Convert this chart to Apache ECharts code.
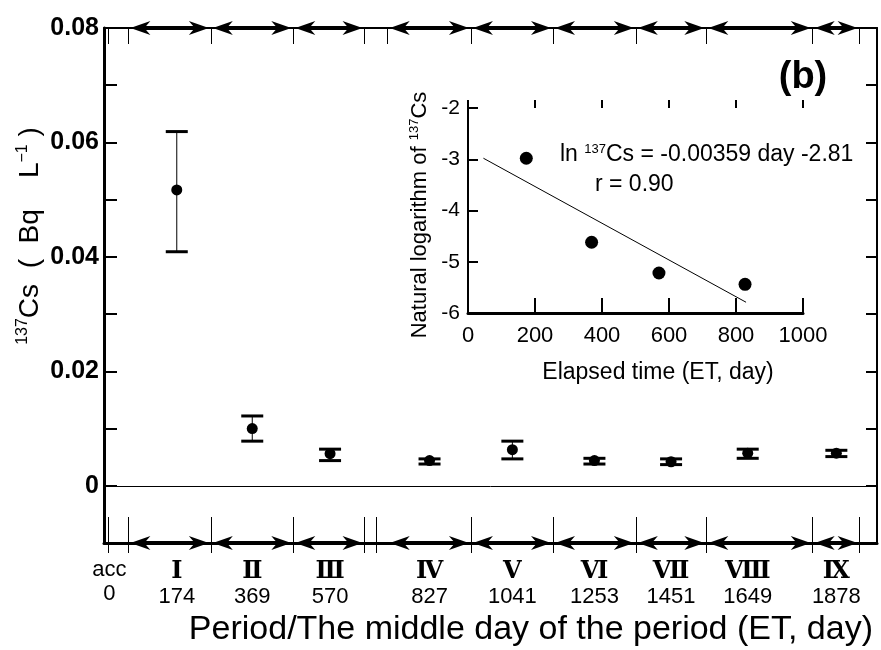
<!DOCTYPE html>
<html>
<head>
<meta charset="utf-8">
<script src="https://cdn.jsdelivr.net/npm/echarts@6/dist/echarts.min.js"></script>
<style>
  html, body { margin: 0; padding: 0; background: #fff; }
  #chart { width: 881px; height: 650px; }
</style>
</head>
<body>
<div id="chart"></div>
<script>
// main panel: 137Cs by period
const periodNames = ['Ⅰ', 'Ⅱ', 'Ⅲ', 'Ⅳ', 'Ⅴ', 'Ⅵ', 'Ⅶ', 'Ⅷ', 'Ⅸ']
const middleDays = [174, 369, 570, 827, 1041, 1253, 1451, 1649, 1878]
const cs137 = [0.0517, 0.0100, 0.0056, 0.0044, 0.0063, 0.0044, 0.0042, 0.0057, 0.0057]
const cs137Low = [0.0409, 0.0078, 0.0044, 0.0038, 0.0047, 0.0038, 0.0037, 0.0048, 0.0051]
const cs137High = [0.0619, 0.0122, 0.0064, 0.0047, 0.0078, 0.0048, 0.0047, 0.0064, 0.0062]
const yTicks = [0, 0.02, 0.04, 0.06, 0.08]

// period arrows and boundaries (days)
const periodStart = [49, 262, 475, 719, 934, 1146, 1360, 1542, 1817]
const periodEnd = [262, 475, 659, 934, 1146, 1360, 1542, 1817, 1938]
const topBounds = [-3, 49, 262, 475, 659, 719, 934, 1146, 1360, 1542, 1817, 1938]
const bottomBounds = [-3, 49, 262, 475, 659, 689, 934, 1146, 1360, 1542, 1817, 1938]

// inset: ln(137Cs) vs elapsed time
const insetDays = [174, 369, 570, 827]
const insetLn = [-2.98, -4.62, -5.22, -5.44]
const fitDays = [46, 830]
const fitLn = [-2.98, -5.79]

const FONT = 'Liberation Sans, Arial, sans-serif'
const X_MIN = -14, X_MAX = 1983
const Y_TOP = 0.08, Y_BOT = -0.01

const chart = echarts.init(document.getElementById('chart'))

function renderErr(params, api) {
  const x = api.value(0)
  const lo = api.coord([x, api.value(1)])
  const hi = api.coord([x, api.value(2)])
  const w = 11
  const cap = (p) => ({ type: 'line', shape: { x1: p[0] - w, y1: p[1], x2: p[0] + w, y2: p[1] },
    style: { stroke: '#000', lineWidth: 3 } })
  return { type: 'group', children: [
    { type: 'line', shape: { x1: lo[0], y1: lo[1], x2: hi[0], y2: hi[1] }, style: { stroke: '#000', lineWidth: 1 } },
    cap(lo), cap(hi)
  ] }
}

function renderArrow(params, api) {
  const a = api.coord([api.value(0), api.value(2)])
  const b = api.coord([api.value(1), api.value(2)])
  const y = a[1], L = 20, W = 7
  const head = (tip, dir) => ({ type: 'polygon',
    shape: { points: [[tip, y], [tip + dir * L, y - W], [tip + dir * L * 0.7, y], [tip + dir * L, y + W]] },
    style: { fill: '#000' } })
  return { type: 'group', children: [
    { type: 'line', shape: { x1: a[0] + 10, y1: y, x2: b[0] - 10, y2: y }, style: { stroke: '#000', lineWidth: 4 } },
    head(a[0] + 2, 1), head(b[0] - 2, -1)
  ] }
}

const labelDays = [0].concat(middleDays)
const labelNames = ['acc'].concat(periodNames)
const blackLine = (w) => ({ onZero: false, lineStyle: { color: '#000', width: w } })

const option = {
  animation: false,
  backgroundColor: '#fff',
  textStyle: { fontFamily: FONT, color: '#000' },
  grid: [
    { left: 104, right: 4, top: 28, bottom: 107 },
    { left: 468, right: 78, top: 108, bottom: 337 }
  ],
  xAxis: [
    { gridIndex: 0, type: 'value', min: X_MIN, max: X_MAX, position: 'bottom',
      axisLine: blackLine(3),
      axisTick: { show: true, inside: true, length: 26, customValues: bottomBounds, lineStyle: { color: '#000', width: 1 } },
      axisLabel: { customValues: labelDays, margin: 15, hideOverlap: false,
        formatter: (v) => {
          const i = labelDays.indexOf(v)
          return (i === 0 ? '{a|acc}' : '{r|' + labelNames[i] + '}') + '\n{n|' + v + '}'
        },
        rich: {
          a: { fontFamily: FONT, fontSize: 22, lineHeight: 24, color: '#000' },
          r: { fontFamily: 'DejaVu Serif, Liberation Serif, serif', fontWeight: 'bold', fontSize: 24, lineHeight: 27, color: '#000' },
          n: { fontFamily: FONT, fontSize: 22, lineHeight: 24, color: '#000' }
        } },
      splitLine: { show: false } },
    { gridIndex: 0, type: 'value', min: X_MIN, max: X_MAX, position: 'bottom',
      axisLine: { show: false, onZero: false },
      axisTick: { show: true, inside: false, length: 10, customValues: bottomBounds, lineStyle: { color: '#000', width: 1 } },
      axisLabel: { show: false }, splitLine: { show: false } },
    { gridIndex: 0, type: 'value', min: X_MIN, max: X_MAX, position: 'top',
      axisLine: blackLine(2),
      axisTick: { show: true, inside: true, length: 16, customValues: topBounds, lineStyle: { color: '#000', width: 1 } },
      axisLabel: { show: false }, splitLine: { show: false } },
    { gridIndex: 1, type: 'value', min: 0, max: 1000, interval: 200,
      axisLine: blackLine(3),
      axisTick: { inside: true, length: 15, lineStyle: { color: '#000', width: 2 } },
      axisLabel: { fontFamily: FONT, fontSize: 22, color: '#000', margin: 12, formatter: (v) => String(v) },
      splitLine: { show: false } },
    { gridIndex: 1, type: 'value', min: 0, max: 1000, interval: 200,
      axisLine: { show: false, onZero: false },
      axisTick: { inside: false, length: 8, lineStyle: { color: '#000', width: 2 } },
      axisLabel: { show: false }, splitLine: { show: false } }
  ],
  yAxis: [
    { gridIndex: 0, type: 'value', min: Y_BOT, max: Y_TOP, interval: 0.01,
      axisLine: Object.assign({ show: true }, blackLine(3)),
      axisTick: { show: true, inside: true, length: 13, lineStyle: { color: '#000', width: 2 } },
      axisLabel: { fontFamily: FONT, fontSize: 25, fontWeight: 'bold', color: '#000', margin: 5,
        formatter: (v) => {
          const k = Math.round(v * 100)
          if (!yTicks.some(t => Math.round(t * 100) === k)) return ''
          return k === 0 ? '0' : (k / 100).toFixed(2)
        } },
      splitLine: { show: false } },
    { gridIndex: 0, type: 'value', min: Y_BOT, max: Y_TOP, interval: 0.01, position: 'right',
      axisLine: Object.assign({ show: true }, blackLine(2)),
      axisTick: { show: true, inside: true, length: 11, lineStyle: { color: '#000', width: 2 } },
      axisLabel: { show: false }, splitLine: { show: false } },
    { gridIndex: 1, type: 'value', min: -6, max: -2, interval: 1,
      axisLine: Object.assign({ show: true }, blackLine(2)),
      axisTick: { show: true, inside: true, length: 10, lineStyle: { color: '#000', width: 2 } },
      axisLabel: { fontFamily: FONT, fontSize: 21, color: '#000', margin: 8 },
      splitLine: { show: false } }
  ],
  series: [
    { type: 'custom', name: 'arrows-top', xAxisIndex: 0, yAxisIndex: 0, renderItem: renderArrow, clip: false, silent: true,
      data: periodStart.map((s, i) => [s, periodEnd[i], Y_TOP]), z: 5 },
    { type: 'custom', name: 'arrows-bottom', xAxisIndex: 0, yAxisIndex: 0, renderItem: renderArrow, clip: false, silent: true,
      data: periodStart.map((s, i) => [s, periodEnd[i], Y_BOT]), z: 5 },
    { type: 'custom', name: 'error', xAxisIndex: 0, yAxisIndex: 0, renderItem: renderErr, silent: true,
      data: middleDays.map((d, i) => [d, cs137Low[i], cs137High[i]]) },
    { type: 'scatter', name: '137Cs', xAxisIndex: 0, yAxisIndex: 0, symbolSize: 11,
      itemStyle: { color: '#000', opacity: 1 },
      data: middleDays.map((d, i) => [d, cs137[i]]),
      markLine: { silent: true, symbol: 'none', label: { show: false },
        lineStyle: { color: '#000', width: 1, type: 'solid' },
        data: [{ yAxis: 0 }] } },
    { type: 'line', name: 'fit', xAxisIndex: 3, yAxisIndex: 2, showSymbol: false,
      lineStyle: { color: '#000', width: 1 },
      data: fitDays.map((d, i) => [d, fitLn[i]]) },
    { type: 'scatter', name: 'ln137Cs', xAxisIndex: 3, yAxisIndex: 2, symbolSize: 13,
      itemStyle: { color: '#000', opacity: 1 },
      data: insetDays.map((d, i) => [d, insetLn[i]]) }
  ],
  graphic: [
    { type: 'text', x: 30, y: 236, rotation: Math.PI / 2,
      style: { text: '{s|137}{m|Cs  (  Bq    L}{s|−1}{m| )}', align: 'center', verticalAlign: 'middle',
        rich: { m: { fontFamily: FONT, fontSize: 28, lineHeight: 30, fill: '#000' },
                s: { fontFamily: FONT, fontSize: 16, verticalAlign: 'top', fill: '#000' } } } },
    { type: 'text', x: 873, y: 630,
      style: { text: 'Period/The middle day of the period (ET, day)', align: 'right', verticalAlign: 'middle',
        fontFamily: FONT, fontSize: 34, fill: '#000' } },
    { type: 'text', x: 803, y: 78,
      style: { text: '(b)', align: 'center', verticalAlign: 'middle', fontFamily: FONT, fontSize: 38, fontWeight: 'bold', fill: '#000' } },
    { type: 'text', x: 420, y: 215, rotation: Math.PI / 2,
      style: { text: '{m|Natural logarithm of }{s|137}{m|Cs}', align: 'center', verticalAlign: 'middle',
        rich: { m: { fontFamily: FONT, fontSize: 22, lineHeight: 24, fill: '#000' },
                s: { fontFamily: FONT, fontSize: 13, verticalAlign: 'top', fill: '#000' } } } },
    { type: 'text', x: 658, y: 373,
      style: { text: 'Elapsed time (ET, day)', align: 'center', verticalAlign: 'middle', fontFamily: FONT, fontSize: 23, fill: '#000' } },
    { type: 'text', x: 560, y: 155,
      style: { text: '{m|ln }{s|137}{m|Cs = -0.00359 day -2.81}', align: 'left', verticalAlign: 'middle',
        rich: { m: { fontFamily: FONT, fontSize: 23, lineHeight: 25, fill: '#000' },
                s: { fontFamily: FONT, fontSize: 13, verticalAlign: 'top', fill: '#000' } } } },
    { type: 'text', x: 595, y: 185,
      style: { text: 'r = 0.90', align: 'left', verticalAlign: 'middle', fontFamily: FONT, fontSize: 23, fill: '#000' } }
  ]
}

chart.setOption(option)
</script>
</body>
</html>
